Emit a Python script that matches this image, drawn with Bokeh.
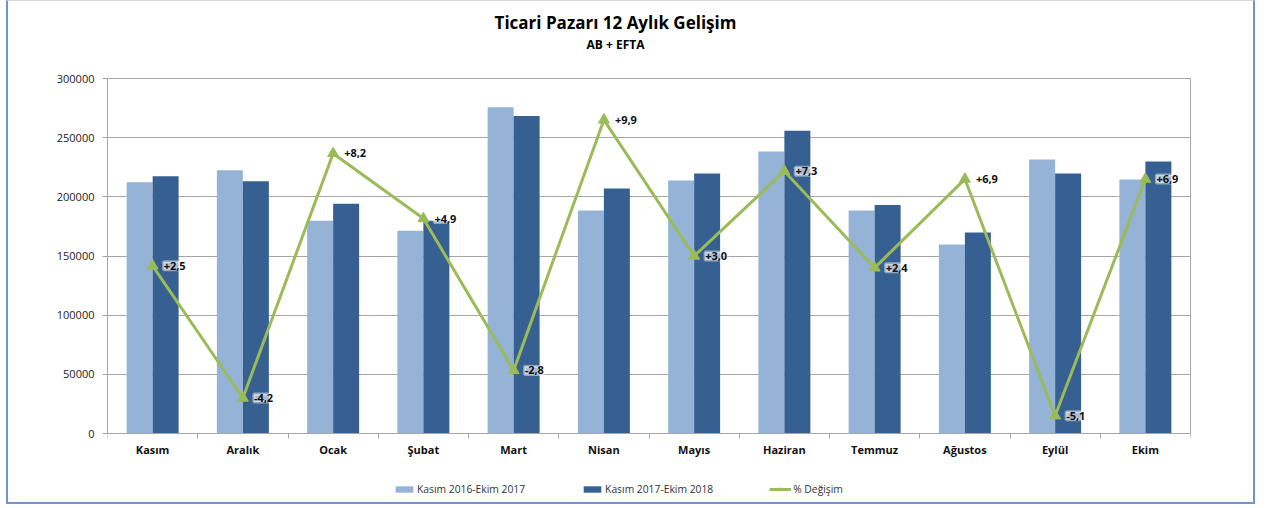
from bokeh.plotting import figure
from bokeh.models import (ColumnDataSource, Range1d, FixedTicker, LabelSet, LinearAxis,
                          Label, Legend, LegendItem)
from bokeh.core.properties import value
from bokeh.embed import file_html
from bokeh.resources import INLINE

months = ["Kasım", "Aralık", "Ocak", "Şubat", "Mart", "Nisan", "Mayıs", "Haziran",
          "Temmuz", "Ağustos", "Eylül", "Ekim"]
series_prev = [212400, 222500, 179700, 171300, 275700, 188400, 213800, 238300,
               188400, 159700, 231500, 214600]
series_curr = [217400, 213200, 194100, 179700, 268400, 207000, 219700, 255800,
               193200, 169900, 219700, 229900]
pct_change = [2.5, -4.2, 8.2, 4.9, -2.8, 9.9, 3.0, 7.3, 2.4, 6.9, -5.1, 6.9]
name_prev = "Kasım 2016-Ekim 2017"
name_curr = "Kasım 2017-Ekim 2018"
name_pct = "% Değişim"
title_text = "Ticari Pazarı 12 Aylık Gelişim"
subtitle_text = "AB + EFTA"
y_ticks = [0, 50000, 100000, 150000, 200000, 250000, 300000]
y_min, y_max = 0, 300000
pct_min, pct_max = -6, 12

FONT = "Open Sans"
LIGHT = "#95B3D7"
DARK = "#366092"
GREEN = "#9BBB59"
GRID = "#a6a6a6"

# layout (pixels)
W, H = 1249, 504
LEFT, RIGHT = 99, 67
PLOT_TOP, PLOT_BOTTOM = 77, 432          # pixel rows of y_max and y_min
upp = (y_max - y_min) / (PLOT_BOTTOM - PLOT_TOP)   # units per pixel
y_lo = y_min - (H - PLOT_BOTTOM) * upp
y_hi = y_max + PLOT_TOP * upp
k = (pct_max - pct_min) / (y_max - y_min)
p_lo = pct_min + (y_lo - y_min) * k
p_hi = pct_min + (y_hi - y_min) * k

n = len(months)
centers = [i + 0.5 for i in range(n)]
bw = 0.288
src = ColumnDataSource(dict(
    xc=centers,
    x1=[c - bw / 2 for c in centers],
    x2=[c + bw / 2 for c in centers],
    prev=series_prev,
    curr=series_curr,
    pct=pct_change,
    lbl=[("+" if v > 0 else "") + f"{v:.1f}".replace(".", ",") for v in pct_change],
))

p = figure(width=W, height=H, output_backend="svg", toolbar_location=None,
           title=None,
           x_range=Range1d(0, n), y_range=Range1d(y_lo, y_hi),
           min_border_left=LEFT, min_border_right=RIGHT, min_border_top=0, min_border_bottom=0,
           background_fill_color="white", border_fill_color="white",
           x_axis_location=None)
p.extra_y_ranges = {"pct": Range1d(p_lo, p_hi)}
p.styles = {"margin-left": "6px",
            "border-left": "2px solid #6f95cc", "border-right": "2px solid #6f95cc",
            "border-bottom": "2px solid #6f95cc", "border-top": "1px solid #d9d9d9"}
p.outline_line_color = None

r1 = p.vbar(x="x1", top="prev", width=bw, source=src, fill_color=LIGHT, line_color=None)
r2 = p.vbar(x="x2", top="curr", width=bw, source=src, fill_color=DARK, line_color=None)
r3 = p.line(x="xc", y="pct", source=src, y_range_name="pct", line_color=GREEN, line_width=3)
r4 = p.scatter(x="xc", y="pct", source=src, y_range_name="pct", marker="triangle",
               size=11, fill_color=GREEN, line_color=GREEN)

labels = LabelSet(x="xc", y="pct", text="lbl", source=src, y_range_name="pct",
                  x_offset=11, y_offset=0, text_baseline="middle", text_align="left",
                  text_font=value(FONT), text_font_size=value("11px"),
                  text_font_style=value("bold"), text_color="#111111",
                  background_fill_color="white", background_fill_alpha=0.58,
                  border_line_color="white", border_line_alpha=0.45, border_line_width=3)
p.add_layout(labels)

# y axis (left)
p.yaxis.ticker = FixedTicker(ticks=y_ticks)
p.yaxis.bounds = (y_min, y_max)
p.yaxis.formatter.use_scientific = False
p.yaxis.major_label_text_font = FONT
p.yaxis.major_label_text_font_size = "11px"
p.yaxis.major_label_text_color = "#222222"
p.yaxis.axis_line_color = GRID
p.yaxis.major_tick_line_color = GRID
p.yaxis.major_tick_out = 5
p.yaxis.major_tick_in = 0
p.yaxis.minor_tick_line_color = None
p.yaxis.major_label_standoff = 8

# right border of the plot area
rax = LinearAxis(ticker=FixedTicker(ticks=[]), bounds=(y_min, y_max),
                 axis_line_color=GRID, major_label_text_font_size="0px",
                 major_tick_line_color=None, minor_tick_line_color=None)
p.add_layout(rax, "right")

# x axis fixed at y = 0
xax = LinearAxis(fixed_location=y_min,
                 ticker=FixedTicker(ticks=centers, minor_ticks=list(range(n + 1))),
                 major_label_overrides={c: m for c, m in zip(centers, months)},
                 major_label_text_font=FONT, major_label_text_font_size="11px",
                 major_label_text_font_style="bold", major_label_text_color="#111111",
                 major_tick_line_color=None, minor_tick_line_color=GRID,
                 minor_tick_out=5, minor_tick_in=0, axis_line_color=GRID,
                 major_label_standoff=2)
p.add_layout(xax, "below")

p.xgrid.grid_line_color = None
p.ygrid.ticker = FixedTicker(ticks=y_ticks)
p.ygrid.grid_line_color = GRID
p.ygrid.grid_line_width = 1

# titles
p.add_layout(Label(x=508, y=H - 21, x_units="screen", y_units="screen", text=title_text,
                   text_align="center", text_baseline="middle", text_font=FONT,
                   text_font_size="17px", text_font_style="bold", text_color="#000000"))
p.add_layout(Label(x=508, y=H - 43, x_units="screen", y_units="screen", text=subtitle_text,
                   text_align="center", text_baseline="middle", text_font=FONT,
                   text_font_size="12px", text_font_style="bold", text_color="#000000"))

legend = Legend(items=[LegendItem(label=name_prev, renderers=[r1]),
                       LegendItem(label=name_curr, renderers=[r2]),
                       LegendItem(label=name_pct, renderers=[r3, r4])],
                orientation="horizontal", location=(286, 9),
                label_text_font=FONT, label_text_font_size="10.3px", label_text_color="#333333",
                glyph_width=22, glyph_height=8, label_height=12, label_standoff=2, spacing=56,
                padding=0, margin=0, border_line_color=None, background_fill_alpha=0)
p.add_layout(legend, "center")

open("out.html", "w").write(file_html(p, INLINE))
